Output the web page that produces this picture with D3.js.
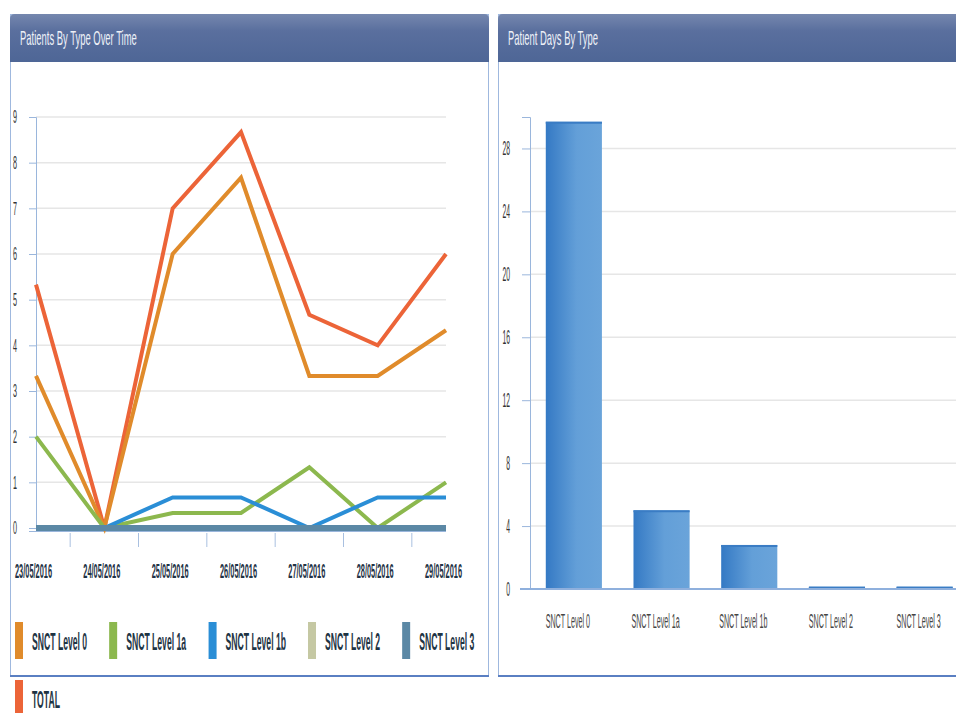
<!DOCTYPE html>
<html>
<head>
<meta charset="utf-8">
<script src="https://cdn.jsdelivr.net/npm/d3@7"></script>
<style>
  body { margin: 0; background: #fff; }
  text { font-family: "Liberation Sans", Arial, sans-serif; }
</style>
</head>
<body>
<div id="chart"></div>
<script>
// data
var dates = ["23/05/2016", "24/05/2016", "25/05/2016", "26/05/2016", "27/05/2016", "28/05/2016", "29/05/2016"];
var seriesNames = ["SNCT Level 0", "SNCT Level 1a", "SNCT Level 1b", "SNCT Level 2", "SNCT Level 3", "TOTAL"];
var seriesColors = ["#e08b2b", "#8cb84e", "#2a8ed6", "#c5c8a3", "#5b88a5", "#ec6438"];
var level0 = [3.33, 0, 6, 7.67, 3.33, 3.33, 4.33];
var level1a = [2, 0, 0.33, 0.33, 1.33, 0, 1];
var level1b = [0, 0, 0.67, 0.67, 0, 0.67, 0.67];
var level2 = [0, 0, 0, 0, 0, 0, 0];
var level3 = [0, 0, 0, 0, 0, 0, 0];
var total = [5.33, 0, 7, 8.67, 4.67, 4, 6];
var leftTicks = [0, 1, 2, 3, 4, 5, 6, 7, 8, 9];

var dayTypes = ["SNCT Level 0", "SNCT Level 1a", "SNCT Level 1b", "SNCT Level 2", "SNCT Level 3"];
var patientDays = [29.7, 5, 2.8, 0.15, 0.15];
var rightTicks = [0, 4, 8, 12, 16, 20, 24, 28];

// squeeze text horizontally around its own anchor (the screenshot text is narrow)
function squeeze(sel, sx) {
    sel.each(function() {
        var t = d3.select(this);
        var x = +t.attr("x") || 0, y = +t.attr("y") || 0;
        t.attr("x", null).attr("y", null)
            .attr("transform", "translate(" + x + "," + y + ") scale(" + sx + ",1)");
    });
}

var svg = d3.select("#chart").append("svg")
    .attr("width", 956)
    .attr("height", 713);

var defs = svg.append("defs");
var hg = defs.append("linearGradient").attr("id", "head").attr("x1", 0).attr("y1", 0).attr("x2", 0).attr("y2", 1);
hg.append("stop").attr("offset", "0%").attr("stop-color", "#7587ae");
hg.append("stop").attr("offset", "35%").attr("stop-color", "#5a6f9e");
hg.append("stop").attr("offset", "100%").attr("stop-color", "#4e6696");
var bg = defs.append("linearGradient").attr("id", "bar").attr("x1", 0).attr("y1", 0).attr("x2", 1).attr("y2", 0);
bg.append("stop").attr("offset", "0%").attr("stop-color", "#3479c4");
bg.append("stop").attr("offset", "55%").attr("stop-color", "#639fd8");
bg.append("stop").attr("offset", "100%").attr("stop-color", "#6aa4da");

// panel frame with a blue header
function panel(x, w, title) {
    var g = svg.append("g");
    g.append("rect")
        .attr("x", x + 0.5).attr("y", 14.5)
        .attr("width", w).attr("height", 661)
        .attr("fill", "#fff").attr("stroke", "#9fb8de");
    g.append("path")
        .attr("d", "M" + x + ",62 V19 Q" + x + ",14 " + (x + 5) + ",14 H" + (x + w - 4) + " Q" + (x + w + 1) + ",14 " + (x + w + 1) + ",19 V62 Z")
        .attr("fill", "url(#head)");
    g.append("line")
        .attr("x1", x).attr("x2", x + w + 1)
        .attr("y1", 676).attr("y2", 676)
        .attr("stroke", "#5a7fc2").attr("stroke-width", 2);
    g.append("text")
        .attr("x", x + 10).attr("y", 45)
        .style("font-size", "21px")
        .style("fill", "#eef1f8")
        .text(title)
        .call(squeeze, 0.45);
}
panel(10, 478, "Patients By Type Over Time");
panel(498, 470, "Patient Days By Type");

// ---- left: lines ----
var x = d3.scalePoint().domain(dates).range([36, 446]);
var y = d3.scaleLinear().domain([0, 9]).range([528, 117]);

var gl = svg.append("g");
gl.selectAll(".grid").data(leftTicks.slice(1)).enter().append("line")
    .attr("x1", 36).attr("x2", 446)
    .attr("y1", function(d) { return y(d); }).attr("y2", function(d) { return y(d); })
    .attr("stroke", "#e6e6e6").attr("stroke-width", 1.5);

var yAxisL = gl.append("g")
    .attr("transform", "translate(36,0)")
    .call(d3.axisLeft(y).tickValues(leftTicks).tickFormat(d3.format("d")).tickSize(7).tickPadding(12));
yAxisL.select(".domain").attr("stroke", "#9ab6dc").attr("d", "M-7,117.5H0.5V531");
yAxisL.selectAll(".tick line").attr("stroke", "#9ab6dc");
yAxisL.selectAll("text").style("font-size", "18px").style("fill", "#333").call(squeeze, 0.4);

// x axis: labels on points, ticks between the days
var xAxisL = gl.append("g")
    .attr("transform", "translate(-3,528)")
    .call(d3.axisBottom(x).tickSize(0).tickPadding(36));
xAxisL.select(".domain").remove();
xAxisL.selectAll("text")
    .style("font-size", "20px").style("font-weight", "bold").style("fill", "#1f3346")
    .call(squeeze, 0.37);
var mids = d3.pairs(dates).map(function(p) { return (x(p[0]) + x(p[1])) / 2; });
gl.selectAll(".xtick").data(mids).enter().append("line")
    .attr("x1", function(d) { return d; }).attr("x2", function(d) { return d; })
    .attr("y1", 533).attr("y2", 547)
    .attr("stroke", "#a9c0e0");
gl.append("line").attr("x1", 29).attr("x2", 446).attr("y1", 531.5).attr("y2", 531.5)
    .attr("stroke", "#9ab6dc");

var seriesValues = [level0, level1a, level1b, level2, level3, total];
var line = d3.line()
    .x(function(d, i) { return x(dates[i]); })
    .y(function(d) { return y(d); });
var drawOrder = [5, 0, 1, 2, 3, 4];
gl.selectAll(".series").data(drawOrder).enter().append("path")
    .attr("d", function(k) { return line(seriesValues[k]); })
    .attr("fill", "none")
    .attr("stroke", function(k) { return seriesColors[k]; })
    .attr("stroke-width", function(k) { return k === 4 ? 6 : 4; })
    .attr("stroke-linejoin", "miter");

// legend, flowing across the panel width; TOTAL wraps below the panel
var lx = 15, ly = 622;
seriesNames.forEach(function(name, i) {
    var item = svg.append("g");
    item.append("rect")
        .attr("x", lx).attr("y", ly)
        .attr("width", 8).attr("height", 37)
        .attr("fill", seriesColors[i]);
    var t = item.append("text")
        .attr("x", lx + 17).attr("y", ly + 28)
        .style("font-size", "24px").style("font-weight", "bold").style("fill", "#1e3444")
        .text(name)
        .call(squeeze, 0.36);
    var w = t.node().getBBox().width * 0.36;
    lx = lx + 17 + w + 22;
    if (i === 4) { lx = 15; ly = 680; }
});

// ---- right: bars ----
var xb = d3.scaleBand().domain(dayTypes).range([530, 968.5]).paddingInner(0.36).paddingOuter(0.18);
var yb = d3.scaleLinear().domain([0, 30]).range([589, 117]);

var gr = svg.append("g");
gr.selectAll(".grid").data(rightTicks.slice(1)).enter().append("line")
    .attr("x1", 530).attr("x2", 956)
    .attr("y1", function(d) { return yb(d); }).attr("y2", function(d) { return yb(d); })
    .attr("stroke", "#e6e6e6").attr("stroke-width", 1.5);

var yAxisR = gr.append("g")
    .attr("transform", "translate(530,0)")
    .call(d3.axisLeft(yb).tickValues(rightTicks).tickSize(8).tickPadding(12));
yAxisR.select(".domain").attr("stroke", "#9ab6dc").attr("d", "M-8,117.5H0.5V589");
yAxisR.selectAll(".tick line").attr("stroke", "#9ab6dc");
yAxisR.selectAll("text").style("font-size", "20px").style("fill", "#333").call(squeeze, 0.34);

gr.selectAll(".bar").data(patientDays).enter().append("rect")
    .attr("x", function(d, i) { return xb(dayTypes[i]); })
    .attr("y", function(d) { return yb(d); })
    .attr("width", xb.bandwidth())
    .attr("height", function(d) { return 589 - yb(d); })
    .attr("fill", "url(#bar)");
gr.selectAll(".bartop").data(patientDays).enter().append("line")
    .attr("x1", function(d, i) { return xb(dayTypes[i]); })
    .attr("x2", function(d, i) { return xb(dayTypes[i]) + xb.bandwidth(); })
    .attr("y1", function(d) { return yb(d) + 1; })
    .attr("y2", function(d) { return yb(d) + 1; })
    .attr("stroke", "#3a7cc4").attr("stroke-width", 2);

var xAxisR = gr.append("g")
    .attr("transform", "translate(-6,589)")
    .call(d3.axisBottom(xb).tickSize(0).tickPadding(24));
xAxisR.select(".domain").attr("stroke", "#8fb0dd").attr("stroke-width", 2).attr("d", "M526,0H966");
xAxisR.selectAll("text").style("font-size", "21px").style("fill", "#444").call(squeeze, 0.34);
</script>
</body>
</html>
